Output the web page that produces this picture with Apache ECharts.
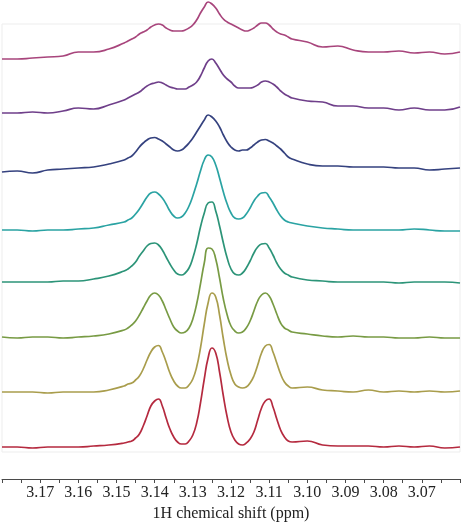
<!DOCTYPE html>
<html><head><meta charset="utf-8">
<script src="https://cdn.jsdelivr.net/npm/echarts@6/dist/echarts.min.js"></script>
<style>html,body{margin:0;padding:0;background:#fff}#c{width:462px;height:522px}</style>
</head><body><div id="c"></div>
<script>
// chemical shift sample points (ppm)
const ppm = [3.180,3.176,3.172,3.168,3.164,3.160,3.156,3.152,3.148,
3.147,3.146,3.145,3.144,3.143,3.142,3.141,3.140,3.139,3.138,3.137,3.136,3.135,3.134,3.133,3.132,3.131,3.130,3.129,3.128,3.127,3.126,3.125,3.124,3.123,3.122,3.121,3.120,3.119,3.118,3.117,3.116,3.115,3.114,3.113,3.112,3.111,3.110,3.109,3.108,3.107,3.106,3.105,3.104,
3.100,3.096,3.092,3.088,3.084,3.080,3.076,3.072,3.068,3.064,3.060];

// intensities (top spectrum s1 ... bottom spectrum s8)
const s1 = [0,0,1,2,3,7,7,10,16,
18,20,22,25,27,29,32,34,35,34,31,29,28,28,28,29,31,34,39,46,52,57,55,51,45,40,37,35,33,31,29,28,29,31,34,36,36,34,30,27,25,24,22,20,
17,12,13,9,7,7,8,6,7,5,7];
const s2 = [0,0,1,0,2,5,4,8,13,
15,17,19,21,24,27,29,30,31,30,28,26,25,24,24,24,26,28,31,37,45,52,54,50,44,38,34,31,27,25,25,25,25,26,28,31,32,31,29,26,22,19,17,15,
12,11,7,7,5,5,3,5,3,3,6];
const s3 = [0,1,-1,2,3,4,5,8,12,
14,16,20,25,29,32,34,34.5,33,31,28,25,22,21,22,25,29,34,40,46,52,57,55,51,45,37,30,25,22,21,22,22,24,27,30,32,32.5,31,29,26,23,19,15,13,
8,6,6,5,5,5,4,4,2,3,4];
const s4 = [0,0,-1,0,0,1,2,5,8,
10,12,16,21,27,33,37,38,36,32,26,19,14,12,13,17,24,34,46,59,70,75,73,65,52,38,26,17,12,11,12,16,22,29,34,37,37.5,33,27,20,14,10,8,7,
4,2,1,0,0,0,0,1,0,-1,-1];
const s5 = [0,0,0,0,1,1,3,6,11,
13,16,20,26,31,36,38.5,39,37,32,25,18,12,8,7,9,14,24,38,55,69,79,80,71,56,39,24,13,8,7,9,14,21,29,35,38,38.5,34,27,19,13,9,7,5,
2,1,0,0,0,0,-1,0,0,0,-1];
const s6 = [0,-1,0,0,-1,0,1,3,7,
9,12,16,22,29,36,42,44,42,36,27,18,10,6,4,5,9,18,33,53,74,89,88,78,59,38,22,11,6,4,5,9,16,26,36,42,44,41,33,23,14,9,7,5,
3,1,0,1,0,0,-1,-1,0,-1,-1];
const s7 = [0,0,0,-1,0,0,0,2,6,
8,9,12,16,23,32,40,45,46.5,40,30,19,11,6,4,4,7,13,25,44,68,89,99,95,77,53,32,17,8,5,4,5,9,16,27,39,46,47.5,40,29,18,10,6,4,
5,2,1,0,2,0,1,0,1,0,1];
const s8 = [0,0,-1,0,0,0,1,2,4,
5,6,9,13,21,31,41,46,48,41,29,18,10,5,3,3,6,12,24,44,68,89,99,94,75,51,30,15,7,3,2,4,8,15,27,39,46,48,40,28,17,10,6,5,
6,2,1,1,1,0,1,0,1,-1,0];

// vertical stacking offset of each spectrum
const offsets = [388, 334, 275, 217, 165, 110, 55, 0];
const tickLabels = ['3.17','3.16','3.15','3.14','3.13','3.12','3.11','3.10','3.09','3.08','3.07'];
const axisTitle = '1H chemical shift (ppm)';

const spectra = [s1, s2, s3, s4, s5, s6, s7, s8];
const colors = ['#a8457c', '#6f3f8a', '#35427f', '#2aa3a3', '#2c9478', '#789b44', '#a99d4c', '#b52a3f'];

const chart = echarts.init(document.getElementById('c'), null, {renderer: 'canvas'});
chart.setOption({
  animation: false,
  backgroundColor: '#ffffff',
  grid: [
    {left: 2, right: 2, top: 0, bottom: 43, outerBoundsMode: 'none', containLabel: false},
    {left: 2, right: 2, top: 24, bottom: 70, outerBoundsMode: 'none', containLabel: false,
     show: true, borderColor: '#ededed', borderWidth: 1, backgroundColor: 'transparent'}
  ],
  xAxis: [
    {
      type: 'value', gridIndex: 0, inverse: true, min: 3.06, max: 3.18, interval: 0.005,
      axisLine: {onZero: false, lineStyle: {color: '#4a4a4a', width: 1}},
      axisTick: {length: 4, lineStyle: {color: '#4a4a4a'}},
      splitLine: {show: false},
      axisLabel: {
        formatter: function (v) {
          const s = v.toFixed(2);
          return (Math.round(v * 1000) % 10 === 0 && tickLabels.indexOf(s) >= 0) ? s : '';
        },
        fontFamily: 'Liberation Serif', fontSize: 16, color: '#222', margin: 6
      },
      name: axisTitle, nameLocation: 'middle', nameGap: 24,
      nameTextStyle: {fontFamily: 'Liberation Serif', fontSize: 16, color: '#222'}
    },
    {type: 'value', gridIndex: 1, show: false}
  ],
  yAxis: [
    {type: 'value', gridIndex: 0, min: -32, max: 447, show: false},
    {type: 'value', gridIndex: 1, show: false}
  ],
  series: spectra.map(function (s, k) {
    return {
      type: 'line', xAxisIndex: 0, yAxisIndex: 0,
      data: ppm.map(function (p, i) { return [p, s[i] + offsets[k]]; }),
      showSymbol: false, smooth: 0.5, clip: false,
      lineStyle: {color: colors[k], width: 1.7}
    };
  })
});
</script>
</body></html>
